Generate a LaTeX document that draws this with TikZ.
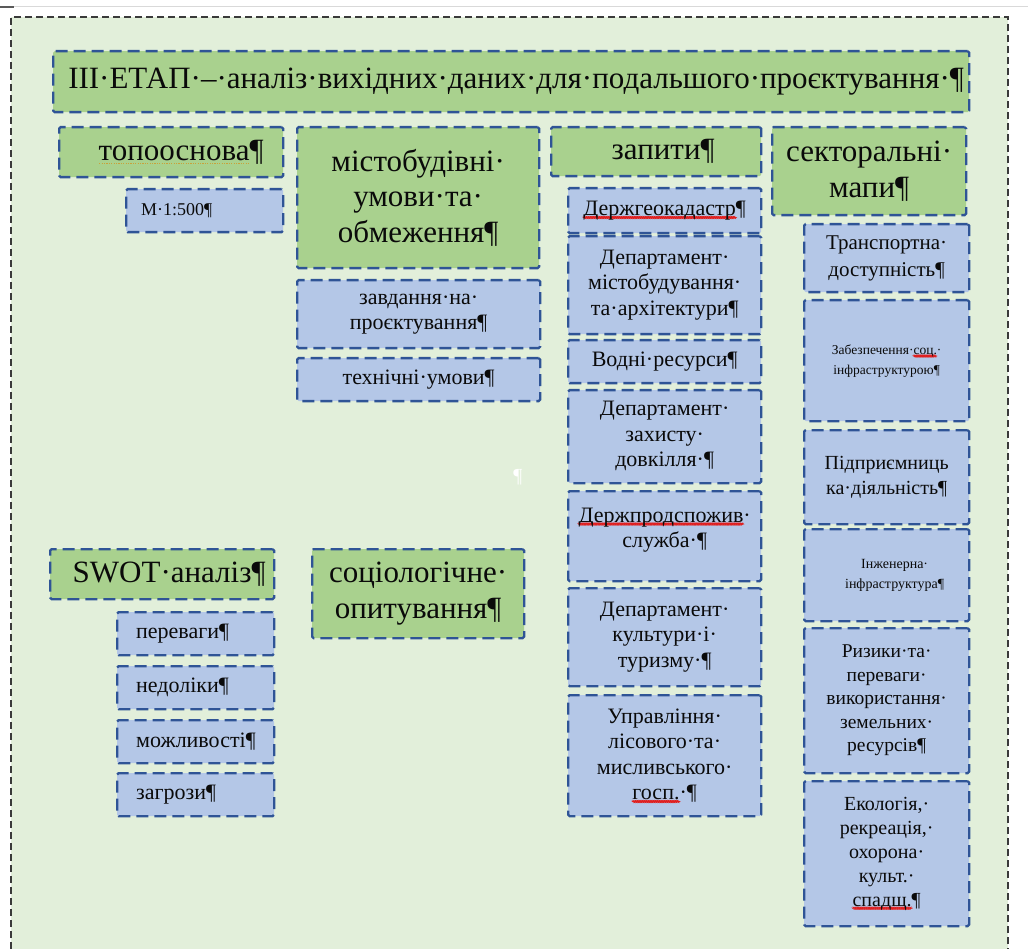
\documentclass[tikz,border=0pt]{standalone}
\usepackage{fontspec}
\setmainfont{Liberation Serif}
\usetikzlibrary{decorations.pathmorphing}
\definecolor{framefill}{HTML}{E2EFDA}
\definecolor{framedraw}{HTML}{3A3A3A}
\definecolor{grn}{HTML}{A9D18E}
\definecolor{blu}{HTML}{B4C7E7}
\definecolor{bdr}{HTML}{2F5496}
\definecolor{txt}{HTML}{0A0A0A}
\definecolor{spellred}{HTML}{E02020}
\definecolor{gramgold}{HTML}{C9A23A}
\newsavebox\splbox
\newlength\spllen
\newcommand\spl[1]{\sbox\splbox{#1}\setlength\spllen{\wd\splbox}\rlap{\tikz[baseline=0pt]\draw[solid,line width=0.45pt,draw=spellred,decorate,decoration={snake,amplitude=0.45pt,segment length=2.2pt}] (0pt,-2pt)--(\spllen,-2pt);}\usebox\splbox}
\newcommand\gram[1]{\sbox\splbox{#1}\setlength\spllen{\wd\splbox}\rlap{\tikz[baseline=0pt]\draw[line width=1.1pt,draw=gramgold,dash pattern=on 1.2pt off 1.2pt] (0pt,-3pt)--(\spllen,-3pt);}\usebox\splbox}
\begin{document}
\begin{tikzpicture}[x=1pt,y=-1pt,
  bx/.style={draw=bdr, line width=2.3pt, dash pattern=on 12pt off 6pt, rounded corners=1.5pt, anchor=north west, inner sep=0pt, align=center, text=txt},
  gbox/.style={bx, fill=grn, font=\fontsize{31}{35.5}\selectfont},
  bbox/.style={bx, fill=blu, font=\fontsize{22}{25.3}\selectfont},
  framedash/.style={draw=framedraw, line width=1.8pt, dash pattern=on 7pt off 4pt}]
\useasboundingbox (0,0) rectangle (1028,949);
\fill[white] (0,0) rectangle (1028,949);
\fill[framefill] (11,17) rectangle (1008,960);
\draw[framedash] (11,960) -- (11,17) -- (1008,17) -- (1008,960);
\draw[gray!30, line width=1pt] (0,7) -- (1028,7);
\draw[gray!70!black, line width=1.2pt] (0,7) -- (14,7);

% title
\node[gbox, minimum width=916pt, minimum height=61pt] (title) at (52,50) {\hspace*{10pt}III·ЕТАП·–·аналіз·вихідних·даних·для·подальшого·проєктування·¶};

% column 1
\node[gbox, minimum width=224pt, minimum height=50pt] (topo) at (58,126) {\hspace*{20pt}\gram{топооснова}¶};
\node[bbox, font=\fontsize{18}{21}\selectfont, minimum width=157pt, minimum height=43pt, text width=127pt, align=left] (m500) at (125,188) {М·1:500¶};

% column 2
\node[gbox, minimum width=242pt, minimum height=141pt] (misto) at (296,126) {містобудівні·\\умови·та·\\обмеження¶};
\node[bbox, minimum width=243pt, minimum height=68pt] (zavd) at (296,279) {завдання·на·\\проєктування¶};
\node[bbox, minimum width=243pt, minimum height=43pt] (tekh) at (296,357) {технічні·умови¶};

% column 3
\node[gbox, minimum width=210pt, minimum height=49pt] (zapyty) at (550,126) {\hspace*{14pt}запити¶};
\node[bbox, minimum width=193pt, minimum height=45pt] (dgk) at (567,187) {\spl{Держгеокадастр}¶};
\node[bbox, minimum width=193pt, minimum height=98pt] (dma) at (567,235) {Департамент·\\містобудування·\\та·архітектури¶};
\node[bbox, minimum width=193pt, minimum height=43pt] (vodni) at (567,339) {Водні·ресурси¶};
\node[bbox, minimum width=193pt, minimum height=93pt] (dzd) at (567,389) {\\[-12pt]Департамент·\\захисту·\\довкілля·¶};
\node[bbox, minimum width=193pt, minimum height=90pt] (dps) at (567,490) {\spl{Держпродспожив}·\\служба·¶\\[-8pt]};
\node[bbox, minimum width=193pt, minimum height=98pt] (dkt) at (567,587) {Департамент·\\культури·і·\\туризму·¶};
\node[bbox, minimum width=193pt, minimum height=121pt] (ulm) at (567,694) {Управління·\\лісового·та·\\мисливського·\\\spl{госп.}·¶};

% column 4
\node[gbox, minimum width=194pt, minimum height=88pt] (sekt) at (771,126) {секторальні·\\мапи¶};
\node[bbox, font=\fontsize{21}{27}\selectfont, minimum width=165pt, minimum height=68pt] (trans) at (803,223) {Транспортна·\\доступність¶};
\node[bbox, font=\fontsize{13.5}{20}\selectfont, minimum width=165pt, minimum height=121pt] (zabez) at (803,299) {Забезпечення·\spl{соц.}·\\інфраструктурою¶};
\node[bbox, font=\fontsize{20}{25}\selectfont, minimum width=165pt, minimum height=94pt] (pidpr) at (803,429) {Підприємниць\\ка·діяльність¶};
\node[bbox, font=\fontsize{14}{20}\selectfont, minimum width=165pt, minimum height=92pt] (inzh) at (803,528) {\hspace*{16pt}Інженерна·\\\hspace*{16pt}інфраструктура¶};
\node[bbox, font=\fontsize{19.5}{23.5}\selectfont, minimum width=165pt, minimum height=145pt] (ryz) at (803,627) {Ризики·та·\\переваги·\\використання·\\земельних·\\ресурсів¶};
\node[bbox, font=\fontsize{20}{24}\selectfont, minimum width=165pt, minimum height=145pt] (ekol) at (803,780) {Екологія,·\\рекреація,·\\охорона·\\культ.·\\\spl{спадщ.}¶};

% SWOT
\node[gbox, minimum width=224pt, minimum height=50pt] (swot) at (49,548) {\hspace*{14pt}SWOT·аналіз¶};
\node[bbox, minimum width=157pt, minimum height=43pt, text width=119pt, align=left] (perev) at (116,611) {переваги¶};
\node[bbox, minimum width=157pt, minimum height=43pt, text width=119pt, align=left] (nedol) at (116,665) {недоліки¶};
\node[bbox, minimum width=157pt, minimum height=43pt, text width=119pt, align=left] (mozhl) at (116,719) {можливості¶};
\node[bbox, minimum width=157pt, minimum height=43pt, text width=119pt, align=left] (zagr) at (116,772) {загрози¶};

% sociology
\node[gbox, minimum width=212pt, minimum height=89pt] (soc) at (311,548) {соціологічне·\\опитування¶};

% stray mark
\node[text=white, font=\fontsize{20}{24}\selectfont, inner sep=0pt] (pil) at (518,477) {¶};
\end{tikzpicture}
\end{document}
